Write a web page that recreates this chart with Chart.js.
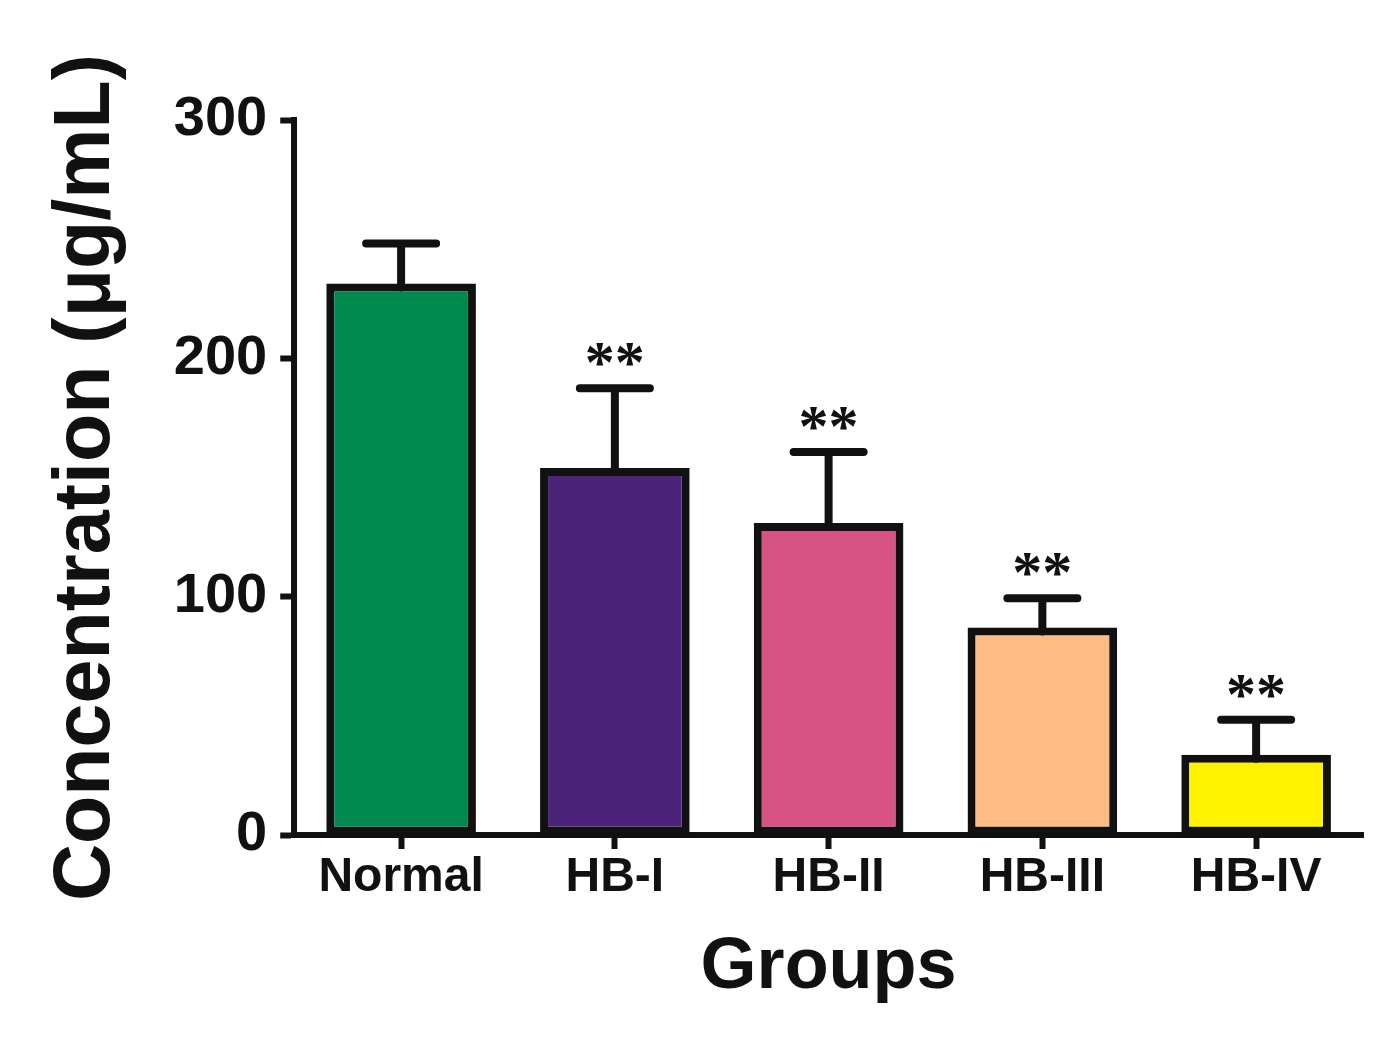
<!DOCTYPE html>
<html>
<head>
<meta charset="utf-8">
<script src="https://cdn.jsdelivr.net/npm/chart.js@4.4.1/dist/chart.umd.min.js"></script>
<style>
  html, body { margin: 0; padding: 0; background: #fff; }
  #wrap { width: 1381px; height: 1037px; }
</style>
</head>
<body>
<div id="wrap"><canvas id="chart" width="1381" height="1037"></canvas></div>
<script>
// ─── Data ───
const groups = ['Normal', 'HB-I', 'HB-II', 'HB-III', 'HB-IV'];
const means = [231.4, 154.0, 130.9, 87.1, 33.7];
const sds = [16.8, 33.4, 29.8, 12.2, 14.7];
const marks = ['', '**', '**', '**', '**'];
const barColors = ['#00894F', '#4B2479', '#D65383', '#FEBB84', '#FFF200'];
const yTicks = [0, 100, 200, 300];

const FONT = '"Liberation Sans", Arial, Helvetica, sans-serif';
const INK = '#111';

// ─── Error bars + significance stars ───
const errorBars = {
  id: 'errorBars',
  afterDatasetsDraw(chart) {
    const { ctx } = chart;
    const y = chart.scales.y;
    const meta = chart.getDatasetMeta(0);
    ctx.save();
    ctx.strokeStyle = INK;
    ctx.fillStyle = INK;
    ctx.lineWidth = 8;
    ctx.lineCap = 'round';
    meta.data.forEach((bar, i) => {
      const x = bar.x;
      const yTop = y.getPixelForValue(means[i] + sds[i]);
      const half = 35;
      ctx.beginPath();
      ctx.moveTo(x, bar.y + 4);
      ctx.lineTo(x, yTop);
      ctx.moveTo(x - half, yTop);
      ctx.lineTo(x + half, yTop);
      ctx.stroke();
      if (marks[i]) {
        ctx.font = 'bold 60px "Liberation Serif", "Times New Roman", serif';
        ctx.textAlign = 'center';
        ctx.textBaseline = 'alphabetic';
        ctx.fillText(marks[i], x, yTop - 6);
      }
    });
    ctx.restore();
  }
};

new Chart(document.getElementById('chart'), {
  type: 'bar',
  data: {
    labels: groups,
    datasets: [{
      data: means,
      backgroundColor: barColors,
      borderColor: INK,
      borderWidth: 8,
      borderSkipped: false,
      barPercentage: 0.7,
      categoryPercentage: 1
    }]
  },
  options: {
    responsive: false,
    animation: false,
    devicePixelRatio: 1,
    layout: { padding: { left: 6, right: 18, top: 120, bottom: 12 } },
    plugins: { legend: { display: false }, tooltip: { enabled: false } },
    scales: {
      x: {
        grid: { display: true, drawOnChartArea: false, offset: false, tickLength: 14, tickWidth: 6, tickColor: INK },
        border: { display: true, width: 6, color: INK },
        ticks: { color: INK, padding: 0, font: { family: FONT, size: 48, weight: 'bold' } },
        title: {
          display: true, text: 'Groups', color: INK,
          font: { family: FONT, size: 72, weight: 'bold' },
          padding: { top: 18, bottom: 14 }
        }
      },
      y: {
        min: 0,
        max: 300,
        afterBuildTicks: s => { s.ticks = yTicks.map(v => ({ value: v })); },
        grid: { display: true, drawOnChartArea: false, tickLength: 14, tickWidth: 6, tickColor: INK },
        border: { display: true, width: 6, color: INK },
        ticks: { color: INK, padding: 13, font: { family: FONT, size: 56, weight: 'bold' } },
        title: {
          display: true, text: 'Concentration (μg/mL)', color: INK,
          font: { family: FONT, size: 79, weight: 'bold' },
          padding: { top: 34, bottom: 26 }
        }
      }
    }
  },
  plugins: [errorBars]
});
</script>
</body>
</html>
